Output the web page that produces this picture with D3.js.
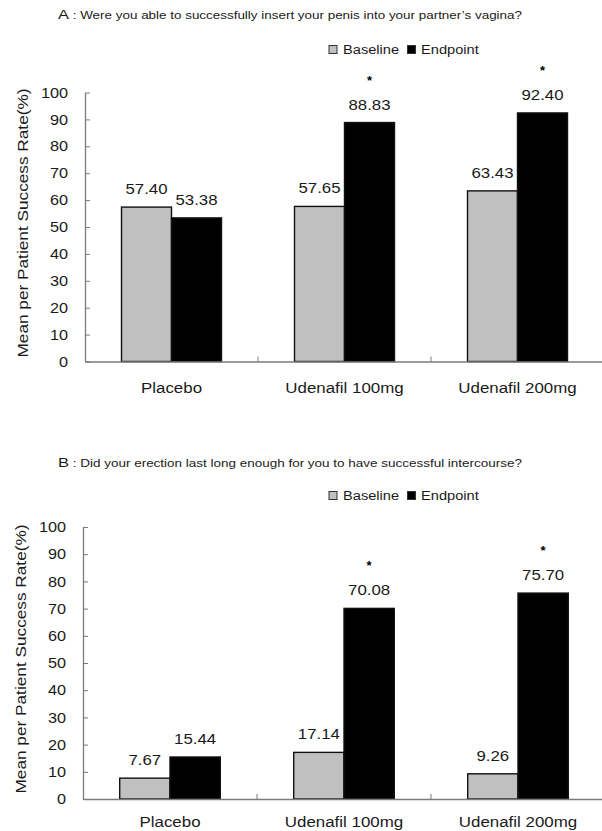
<!DOCTYPE html>
<html>
<head>
<meta charset="utf-8">
<script src="https://cdn.jsdelivr.net/npm/d3@7"></script>
<style>
  html, body { margin: 0; padding: 0; background: #fff; }
  svg { display: block; font-family: "Liberation Sans", Arial, sans-serif; }
</style>
</head>
<body>
<svg id="chart" width="602" height="831"></svg>
<script>
// Data
const categories = ["Placebo", "Udenafil 100mg", "Udenafil 200mg"];
const series = ["Baseline", "Endpoint"];
const insertBaseline = [57.40, 57.65, 63.43];
const insertEndpoint = [53.38, 88.83, 92.40];
const durationBaseline = [7.67, 17.14, 9.26];
const durationEndpoint = [15.44, 70.08, 75.70];
const endpointSignificant = [false, true, true];
const yTicks = [0, 10, 20, 30, 40, 50, 60, 70, 80, 90, 100];
const yTitle = "Mean per Patient Success Rate(%)";
const panelTitles = [
  "Were you able to successfully insert your penis into your partner\u2019s vagina?",
  "Did your erection last long enough for you to have successful intercourse?"
];
const panelLetters = ["A", "B"];

const seriesFill = { Baseline: "#c0c0c0", Endpoint: "#000000" };
const textColor = "#1a1a1a";
const axisColor = "#7a7a7a";

const svg = d3.select("#chart");

// Widen text horizontally by factor k
function stretch(sel, k) {
  sel.each(function () {
    const w = this.getComputedTextLength();
    d3.select(this).attr("textLength", w * k).attr("lengthAdjust", "spacingAndGlyphs");
  });
}

const panels = [
  { letter: panelLetters[0], title: panelTitles[0], base: insertBaseline, end: insertEndpoint,
    left: 85, right: 604, top: 92.5, bottom: 361.5, titleY: 19, legendY: 54, catPad: 20 },
  { letter: panelLetters[1], title: panelTitles[1], base: durationBaseline, end: durationEndpoint,
    left: 83, right: 605, top: 527, bottom: 799, titleY: 467, legendY: 500, catPad: 17 }
];

panels.forEach(p => {
  const g = svg.append("g");

  const y = d3.scaleLinear().domain([0, 100]).range([p.bottom, p.top]);
  const x = d3.scaleBand().domain(categories).range([p.left, p.right]).padding(0);
  const bw = x.bandwidth();
  const xs = d3.scaleBand().domain(series).range([bw * 0.211, bw * 0.789]).padding(0);

  // Title
  const t = g.append("text")
    .attr("x", 58).attr("y", p.titleY)
    .attr("fill", textColor).style("font-size", "11px");
  t.append("tspan").style("font-size", "13.5px").text(p.letter);
  t.append("tspan").text(" : " + p.title);
  t.attr("textLength", 464).attr("lengthAdjust", "spacingAndGlyphs");

  // Legend
  const legendItems = [
    { key: "Baseline", sx: 329, tx: 343 },
    { key: "Endpoint", sx: 407.5, tx: 421 }
  ];
  legendItems.forEach(it => {
    g.append("rect")
      .attr("x", it.sx).attr("y", p.legendY - 8.5)
      .attr("width", 8).attr("height", 8)
      .attr("fill", seriesFill[it.key]).attr("stroke", "#333").attr("stroke-width", 1);
    g.append("text")
      .attr("x", it.tx).attr("y", p.legendY)
      .attr("fill", textColor).style("font-size", "12.5px")
      .text(it.key)
      .call(stretch, 1.17);
  });

  // Y axis with inward ticks
  const yAxis = d3.axisLeft(y).tickValues(yTicks).tickSizeInner(-5).tickSizeOuter(0).tickPadding(17);
  const ya = g.append("g").attr("transform", `translate(${p.left},0)`).call(yAxis);
  ya.select(".domain").attr("stroke", axisColor).attr("stroke-width", 1.3);
  ya.selectAll(".tick line").attr("stroke", axisColor).attr("stroke-width", 1);
  ya.selectAll(".tick text")
    .attr("fill", textColor).style("font-size", "14.5px").style("font-family", "Liberation Sans, Arial, sans-serif")
    .call(stretch, 1.12);

  // Y axis title
  g.append("text")
    .attr("transform", `translate(${p.left - 57},${(p.top + p.bottom) / 2 - 4}) rotate(-90)`)
    .attr("text-anchor", "middle")
    .attr("fill", textColor).style("font-size", "15px")
    .attr("textLength", 269).attr("lengthAdjust", "spacingAndGlyphs")
    .text(yTitle);

  // Bars
  const rows = categories.map((c, i) => ({ cat: c, i, values: [
    { key: "Baseline", v: p.base[i] },
    { key: "Endpoint", v: p.end[i] }
  ] }));

  const grp = g.selectAll(".grp").data(rows).join("g")
    .attr("class", "grp")
    .attr("transform", d => `translate(${x(d.cat)},0)`);

  grp.selectAll("rect").data(d => d.values).join("rect")
    .attr("x", d => xs(d.key))
    .attr("y", d => y(d.v))
    .attr("width", xs.bandwidth())
    .attr("height", d => y(0) - y(d.v))
    .attr("fill", d => seriesFill[d.key])
    .attr("stroke", "#111").attr("stroke-width", 1.4);

  // Value labels
  grp.selectAll("text.val").data(d => d.values).join("text")
    .attr("class", "val")
    .attr("x", d => xs(d.key) + xs.bandwidth() / 2)
    .attr("y", d => y(d.v) - 13)
    .attr("text-anchor", "middle")
    .attr("fill", textColor).style("font-size", "15px")
    .text(d => d.v.toFixed(2))
    .call(stretch, 1.12);

  // Significance markers over endpoint bars
  grp.filter(d => endpointSignificant[d.i]).append("text")
    .attr("x", xs("Endpoint") + xs.bandwidth() / 2)
    .attr("y", d => y(d.values[1].v) - 38)
    .attr("text-anchor", "middle")
    .attr("fill", "#000").style("font-size", "13px").style("font-weight", "bold")
    .text("*");

  // X axis
  const xAxis = d3.axisBottom(x).tickSize(0).tickSizeOuter(0).tickPadding(p.catPad);
  const xa = g.append("g").attr("transform", `translate(0,${p.bottom})`).call(xAxis);
  xa.select(".domain").attr("stroke", axisColor).attr("stroke-width", 1.3);
  xa.selectAll(".tick text")
    .attr("fill", textColor).style("font-size", "15.5px").style("font-family", "Liberation Sans, Arial, sans-serif")
    .call(stretch, 1.09);

  // Category separators (inward ticks)
  g.selectAll(".sep").data(categories.slice(1)).join("line")
    .attr("class", "sep")
    .attr("x1", d => x(d)).attr("x2", d => x(d))
    .attr("y1", p.bottom).attr("y2", p.bottom - 5)
    .attr("stroke", axisColor).attr("stroke-width", 1);
});
</script>
</body>
</html>
